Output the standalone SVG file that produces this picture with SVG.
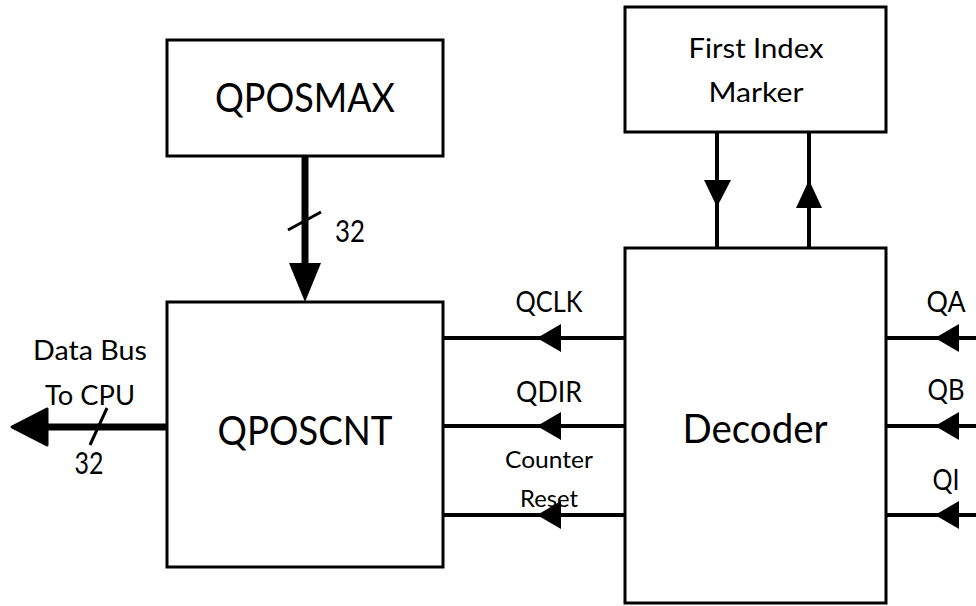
<svg xmlns="http://www.w3.org/2000/svg" width="976" height="606" viewBox="0 0 976 606">
<style>
.box{fill:#fff;stroke:#000;stroke-width:3}
.ln{stroke:#000;stroke-width:4;fill:none}
.bus{stroke:#000;stroke-width:7;fill:none}
.t{font-family:Lato,"Open Sans",sans-serif;fill:#000;text-anchor:middle}
</style>
<defs>
<path id="ahL" d="M0,0 L24,-14 L24,14 Z" fill="#000"/>
</defs>
<rect width="976" height="606" fill="#fff"/>
<g id="connectors">
<line class="bus" x1="305" y1="156" x2="305" y2="270"/>
<path d="M305,302 L289,263 L321,263 Z" fill="#000"/>
<line x1="288" y1="230" x2="321" y2="212" stroke="#000" stroke-width="3"/>
<line class="bus" x1="40" y1="427" x2="167" y2="427"/>
<path d="M12,427 L47,409 L47,445 Z" fill="#000" stroke="#000" stroke-width="3" stroke-linejoin="round"/>
<line x1="90" y1="445" x2="107" y2="408" stroke="#000" stroke-width="3"/>
<line class="ln" x1="443" y1="338" x2="625" y2="338"/>
<use href="#ahL" x="537" y="338"/>
<line class="ln" x1="443" y1="426" x2="625" y2="426"/>
<use href="#ahL" x="537" y="426"/>
<line class="ln" x1="443" y1="515" x2="625" y2="515"/>
<use href="#ahL" x="537" y="515"/>
<line class="ln" x1="886" y1="338" x2="976" y2="338"/>
<use href="#ahL" x="935" y="338"/>
<line class="ln" x1="886" y1="426" x2="976" y2="426"/>
<use href="#ahL" x="935" y="426"/>
<line class="ln" x1="886" y1="515" x2="976" y2="515"/>
<use href="#ahL" x="935" y="515"/>
<line class="ln" x1="717" y1="132" x2="717" y2="248"/>
<path d="M717,207 L704,180 L731,180 Z" fill="#000"/>
<line class="ln" x1="809" y1="132" x2="809" y2="248"/>
<path d="M809,180 L796,208 L822,208 Z" fill="#000"/>
</g>
<g id="qposmax">
<rect class="box" x="167" y="40" width="276" height="116"/>
<text class="t" x="305" y="112" font-size="40" textLength="180" lengthAdjust="spacingAndGlyphs">QPOSMAX</text>
</g>
<g id="qposcnt">
<rect class="box" x="167" y="302" width="276" height="265"/>
<text class="t" x="305" y="445" font-size="40" textLength="175" lengthAdjust="spacingAndGlyphs">QPOSCNT</text>
</g>
<g id="first-index-marker">
<rect class="box" x="625" y="7" width="261" height="125"/>
<text class="t" x="756" y="58" font-size="27" textLength="135" lengthAdjust="spacingAndGlyphs">First Index</text>
<text class="t" x="756" y="102" font-size="27" textLength="95" lengthAdjust="spacingAndGlyphs">Marker</text>
</g>
<g id="decoder">
<rect class="box" x="625" y="248" width="261" height="355"/>
<text class="t" x="755" y="443" font-size="41" textLength="145" lengthAdjust="spacingAndGlyphs">Decoder</text>
</g>
<g id="labels">
<text class="t" x="549" y="312" font-size="29" textLength="67" lengthAdjust="spacingAndGlyphs">QCLK</text>
<text class="t" x="549" y="402" font-size="29" textLength="66" lengthAdjust="spacingAndGlyphs">QDIR</text>
<text class="t" x="549" y="468" font-size="23" textLength="88" lengthAdjust="spacingAndGlyphs">Counter</text>
<text class="t" x="549" y="507" font-size="23" textLength="58" lengthAdjust="spacingAndGlyphs">Reset</text>
<text class="t" x="946" y="312" font-size="29" textLength="39" lengthAdjust="spacingAndGlyphs">QA</text>
<text class="t" x="946" y="400" font-size="29" textLength="37" lengthAdjust="spacingAndGlyphs">QB</text>
<text class="t" x="946" y="490" font-size="29" textLength="27" lengthAdjust="spacingAndGlyphs">QI</text>
<text class="t" x="90" y="360" font-size="27" textLength="114" lengthAdjust="spacingAndGlyphs">Data Bus</text>
<text class="t" x="90" y="405" font-size="27" textLength="90" lengthAdjust="spacingAndGlyphs">To CPU</text>
<text class="t" x="89" y="474" font-size="30" textLength="29" lengthAdjust="spacingAndGlyphs">32</text>
<text class="t" x="350" y="242" font-size="30" textLength="30" lengthAdjust="spacingAndGlyphs">32</text>
</g>
</svg>
